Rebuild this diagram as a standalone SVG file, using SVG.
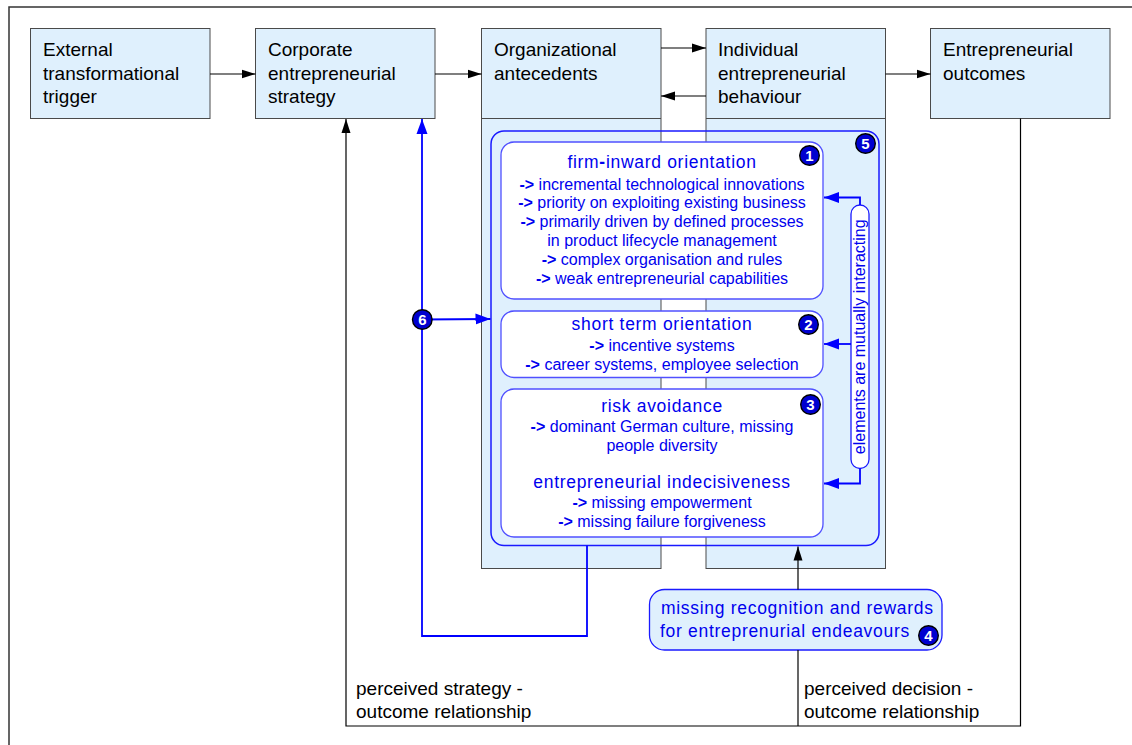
<svg xmlns="http://www.w3.org/2000/svg" width="1132" height="745" viewBox="0 0 1132 745">
  <defs>
    <marker id="ahBlack" markerUnits="userSpaceOnUse" markerWidth="15" markerHeight="10" refX="14" refY="5" orient="auto">
      <path d="M0,0.5 L14,5 L0,9.5 z" fill="#000"/>
    </marker>
    <marker id="ahBlue" markerUnits="userSpaceOnUse" markerWidth="16" markerHeight="12" refX="15" refY="6" orient="auto">
      <path d="M0,0.5 L15,6 L0,11.5 z" fill="#0000ff"/>
    </marker>
    <style>
      .box { fill: #dff0fd; stroke: #4a4a4a; stroke-width: 1; }
      .div { stroke: #4a4a4a; stroke-width: 1; }
      .lbl { font-family: "Liberation Sans", Arial, sans-serif; font-size: 19px; fill: #000; }
      .ttl { font-family: "Liberation Sans", Arial, sans-serif; font-size: 17.5px; letter-spacing: 0.7px; fill: #0000ee; text-anchor: middle; }
      .sub { font-family: "Liberation Sans", Arial, sans-serif; font-size: 16px; fill: #0000ee; text-anchor: middle; }
      .ar { font-weight: bold; }
      .inner { fill: #fff; stroke: #5050ff; stroke-width: 1.3; }
      .badge circle { fill: #0000d0; stroke: #000; stroke-width: 1.4; }
      .badge text { font-family: "Liberation Sans", Arial, sans-serif; font-size: 15px; font-weight: bold; fill: #fff; text-anchor: middle; }
      .blk { fill: none; stroke: #000; stroke-width: 1.2; }
      .blu { fill: none; stroke: #0000ff; stroke-width: 1.8; }
    </style>
  </defs>

  <!-- frame -->
  <path d="M9,745 L9,7 L1132,7" fill="none" stroke="#333" stroke-width="1.5"/>

  <!-- top-row nodes -->
  <g id="external-trigger">
    <rect class="box" x="30.5" y="28.5" width="179.5" height="90"/>
    <text class="lbl" x="43" y="56">External</text>
    <text class="lbl" x="43" y="79.5">transformational</text>
    <text class="lbl" x="43" y="103">trigger</text>
  </g>
  <g id="corporate-strategy">
    <rect class="box" x="255.5" y="28.5" width="179.5" height="90"/>
    <text class="lbl" x="268" y="56">Corporate</text>
    <text class="lbl" x="268" y="79.5">entrepreneurial</text>
    <text class="lbl" x="268" y="103">strategy</text>
  </g>
  <g id="organizational-antecedents">
    <rect class="box" x="481.5" y="28.5" width="179.5" height="540"/>
    <line class="div" x1="481.5" y1="118.5" x2="661" y2="118.5"/>
    <text class="lbl" x="494" y="56">Organizational</text>
    <text class="lbl" x="494" y="79.5">antecedents</text>
  </g>
  <g id="individual-behaviour">
    <rect class="box" x="706" y="28.5" width="179.5" height="540"/>
    <line class="div" x1="706" y1="118.5" x2="885.5" y2="118.5"/>
    <text class="lbl" x="718" y="56">Individual</text>
    <text class="lbl" x="718" y="79.5">entrepreneurial</text>
    <text class="lbl" x="718" y="103">behaviour</text>
  </g>
  <g id="entrepreneurial-outcomes">
    <rect class="box" x="930.5" y="28.5" width="179.5" height="90"/>
    <text class="lbl" x="943" y="56">Entrepreneurial</text>
    <text class="lbl" x="943" y="79.5">outcomes</text>
  </g>

  <!-- inhibitor cluster (5) -->
  <g id="inhibitors">
    <rect x="491" y="131" width="388" height="414.5" rx="13" fill="none" stroke="#1a1aff" stroke-width="1.5"/>
    <g class="badge"><circle cx="865.5" cy="143.5" r="9.8"/><text x="865.5" y="148.8">5</text></g>
  </g>

  <g id="firm-inward">
    <rect class="inner" x="501" y="142" width="322" height="157" rx="13"/>
    <text class="ttl" x="662" y="168">firm<tspan class="ar">-</tspan>inward orientation</text>
    <text class="sub" x="662" y="189.5"><tspan class="ar">-&gt;</tspan> incremental technological innovations</text>
    <text class="sub" x="662" y="208.3"><tspan class="ar">-&gt;</tspan> priority on exploiting existing business</text>
    <text class="sub" x="662" y="227.1"><tspan class="ar">-&gt;</tspan> primarily driven by defined processes</text>
    <text class="sub" x="662" y="245.9">in product lifecycle management</text>
    <text class="sub" x="662" y="264.7"><tspan class="ar">-&gt;</tspan> complex organisation and rules</text>
    <text class="sub" x="662" y="283.5"><tspan class="ar">-&gt;</tspan> weak entrepreneurial capabilities</text>
    <g class="badge"><circle cx="809.5" cy="155.5" r="9.8"/><text x="809.5" y="160.8">1</text></g>
  </g>

  <g id="short-term">
    <rect class="inner" x="501" y="311" width="322" height="66.5" rx="13"/>
    <text class="ttl" x="662" y="330">short term orientation</text>
    <text class="sub" x="662" y="350.5"><tspan class="ar">-&gt;</tspan> incentive systems</text>
    <text class="sub" x="662" y="369.5"><tspan class="ar">-&gt;</tspan> career systems, employee selection</text>
    <g class="badge"><circle cx="808.5" cy="324.5" r="9.8"/><text x="808.5" y="329.8">2</text></g>
  </g>

  <g id="risk-avoidance">
    <rect class="inner" x="501" y="389" width="322" height="148" rx="13"/>
    <text class="ttl" x="662" y="412">risk avoidance</text>
    <text class="sub" x="662" y="432"><tspan class="ar">-&gt;</tspan> dominant German culture, missing</text>
    <text class="sub" x="662" y="450.5">people diversity</text>
    <text class="ttl" x="662" y="488">entrepreneurial indecisiveness</text>
    <text class="sub" x="662" y="507.5"><tspan class="ar">-&gt;</tspan> missing empowerment</text>
    <text class="sub" x="662" y="526.5"><tspan class="ar">-&gt;</tspan> missing failure forgiveness</text>
    <g class="badge"><circle cx="810.5" cy="404.5" r="9.8"/><text x="810.5" y="409.8">3</text></g>
  </g>

  <g id="mutual-interaction">
    <rect x="851" y="205" width="18" height="263.5" rx="9" fill="#fff" stroke="#1a1aff" stroke-width="1.3"/>
    <text class="sub" transform="translate(865.3,336.8) rotate(-90)" x="0" y="0">elements are mutually interacting</text>
  </g>

  <g id="missing-recognition">
    <rect x="649.5" y="589.5" width="292.5" height="60.5" rx="15" fill="#dff0fd" stroke="#1a1aff" stroke-width="1.3"/>
    <text class="ttl" x="661" y="613.5" style="text-anchor:start">missing recognition and rewards</text>
    <text class="ttl" x="660" y="636.5" style="text-anchor:start">for entreprenurial endeavours</text>
    <g class="badge"><circle cx="928.5" cy="635.5" r="9.8"/><text x="928.5" y="640.8">4</text></g>
  </g>

  <!-- connectors -->
  <g id="connectors">
    <line class="blk" x1="210" y1="74" x2="255.5" y2="74" marker-end="url(#ahBlack)"/>
    <line class="blk" x1="435" y1="74" x2="481.5" y2="74" marker-end="url(#ahBlack)"/>
    <line class="blk" x1="661" y1="48" x2="706" y2="48" marker-end="url(#ahBlack)"/>
    <line class="blk" x1="706" y1="96" x2="661" y2="96" marker-end="url(#ahBlack)"/>
    <line class="blk" x1="885.5" y1="74" x2="930.5" y2="74" marker-end="url(#ahBlack)"/>
    <!-- feedback loops -->
    <polyline class="blk" points="1020.5,118.5 1020.5,726 346,726 346,119" marker-end="url(#ahBlack)"/>
    <line class="blk" x1="798" y1="650" x2="798" y2="726"/>
    <line class="blk" x1="798" y1="589.5" x2="798" y2="546.5" marker-end="url(#ahBlack)"/>
    <!-- cluster to strategy (6) -->
    <polyline class="blu" points="587,545.5 587,636 422,636 422,119" marker-end="url(#ahBlue)"/>
    <line class="blu" x1="422" y1="319.5" x2="490.5" y2="319" marker-end="url(#ahBlue)"/>
    <!-- mutual interaction arrows -->
    <polyline class="blu" points="860,205 860,197.5 824,197.5" marker-end="url(#ahBlue)"/>
    <line class="blu" x1="851" y1="344" x2="824" y2="344" marker-end="url(#ahBlue)"/>
    <polyline class="blu" points="860,468.5 860,483.5 824,483.5" marker-end="url(#ahBlue)"/>
  </g>

  <g id="badge-6" class="badge"><circle cx="422.3" cy="319.5" r="9.8"/><text x="422.3" y="324.8">6</text></g>

  <g id="loop-labels">
    <text class="lbl" x="356" y="695">perceived strategy -</text>
    <text class="lbl" x="356" y="718">outcome relationship</text>
    <text class="lbl" x="804" y="695">perceived decision -</text>
    <text class="lbl" x="804" y="718">outcome relationship</text>
  </g>
</svg>
